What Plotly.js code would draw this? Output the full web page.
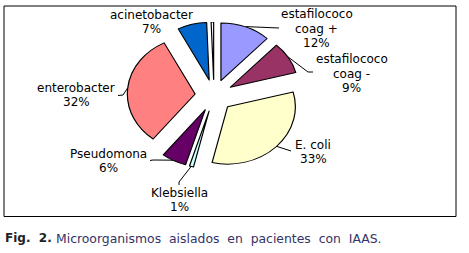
<!DOCTYPE html>
<html>
<head>
<meta charset="utf-8">
<script src="https://cdn.plot.ly/plotly-3.0.1.min.js"></script>
<style>
  html, body { margin: 0; padding: 0; background: #fff; }
  #wrap { position: relative; width: 469px; height: 253px; overflow: hidden; }
  #base { position: absolute; left: 0; top: 0; width: 469px; height: 253px; }
  #pie { position: absolute; left: 114px; top: 21.5px; width: 200px; height: 147px;
         transform: scaleX(1.18); transform-origin: 50% 50%; }
</style>
</head>
<body>
<div id="wrap"><div id="base"></div><div id="pie"></div></div>
<script>
// ---- data ----
const categories = ['estafilococo coag +', 'estafilococo coag -', 'E. coli', 'Klebsiella',
                    'Pseudomona', 'enterobacter', 'acinetobacter', ''];
const values = [12, 9, 33, 1, 6, 32, 7, 0.6];
const colors = ['#9999FF', '#993366', '#FFFFCC', '#CCFFFF', '#660066', '#FF8080', '#0066CC', '#FFFFFF'];
const captionLead = 'Fig.\u00A0 2.';
const caption = 'Microorganismos\u00A0 aislados\u00A0 en\u00A0 pacientes\u00A0 con\u00A0 IAAS.';

// ---- geometry / layout settings ----
const PULL = 0.28;
const CX = 214, CY = 95;          // pie centre in page pixels
const BOX_W = 200, BOX_H = 147;    // pie div size
const SX = 1.18;                   // horizontal stretch of the pie
const R = Math.min(BOX_W, BOX_H) / 2 / (1 + PULL);
const LINE = 14.1;                 // line spacing of the slice labels

// label placement: centre x, y of first text line, leader elbow/end points
const labelPos = [
  {x: 316.7, y: 14.4, lead: [[279, 28]]},
  {x: 351.7, y: 59.4, lead: [[308, 72], [313, 72]]},
  {x: 313, y: 144.8, lead: [[291, 151]]},
  {x: 179, y: 192.8, lead: [[179, 182], [179, 185]]},
  {x: 108.8, y: 154.2, lead: [[153, 160], [150, 160.5]]},
  {x: 76, y: 88.2, lead: [[123, 95], [118, 95.5]]},
  {x: 151, y: 15, lead: null},
  null
];

const total = values.reduce((a, b) => a + b, 0);
const pct = values.map(v => Math.round(v / total * 100) + '%');

function nameLines(name) {
  if (name.indexOf('estafilococo ') === 0) return ['estafilococo', name.slice(13)];
  return [name];
}

// ---- pie ----
Plotly.newPlot('pie', [{
  type: 'pie',
  labels: categories.map((c, i) => c || ('s' + i)),
  values: values,
  sort: false,
  direction: 'clockwise',
  rotation: 0,
  pull: values.map(() => PULL),
  textinfo: 'none',
  hoverinfo: 'none',
  marker: {colors: colors, line: {color: '#000000', width: 1}},
  domain: {x: [0, 1], y: [0, 1]}
}], {
  width: BOX_W, height: BOX_H,
  margin: {l: 0, r: 0, t: 0, b: 0, pad: 0},
  paper_bgcolor: 'rgba(0,0,0,0)', plot_bgcolor: 'rgba(0,0,0,0)',
  showlegend: false
}, {staticPlot: true, displayModeBar: false});

// ---- labels, leader lines, frame, caption ----
const annotations = [];
const shapes = [];
shapes.push({type: 'rect', xref: 'x', yref: 'y', x0: 4, x1: 456, y0: 6, y1: 216.5,
             line: {color: '#000', width: 1}});
let cum = 0;
values.forEach((v, i) => {
  const mid = (cum + v / 2) / total * 2 * Math.PI;
  cum += v;
  const lp = labelPos[i];
  if (!lp) return;
  const lines = nameLines(categories[i]).concat([pct[i]]);
  lines.forEach((t, k) => {
    annotations.push({xref: 'x', yref: 'y', x: lp.x, y: lp.y + k * LINE, text: t, showarrow: false,
                      xanchor: 'center', yanchor: 'middle', borderpad: 0,
                      font: {family: 'DejaVu Sans', size: 12, color: '#000'}});
  });
  if (lp.lead) {
    const rx = CX + (R + PULL * R) * Math.sin(mid) * SX;
    const ry = CY - (R + PULL * R) * Math.cos(mid);
    let path = 'M' + rx.toFixed(1) + ',' + ry.toFixed(1);
    lp.lead.forEach(p => { path += ' L' + p[0] + ',' + p[1]; });
    shapes.push({type: 'path', xref: 'x', yref: 'y', path: path, line: {color: '#000', width: 1}});
  }
});
annotations.push({xref: 'x', yref: 'y', x: 4, y: 238, xanchor: 'left', yanchor: 'middle', showarrow: false,
  borderpad: 0, text: '<b>' + captionLead + '</b>',
  font: {family: 'DejaVu Sans', size: 12, color: '#222222'}});
annotations.push({xref: 'x', yref: 'y', x: 55, y: 238, xanchor: 'left', yanchor: 'middle', showarrow: false,
  borderpad: 0, text: caption,
  font: {family: 'DejaVu Sans', size: 12.4, color: '#333366'}});

Plotly.newPlot('base', [], {
  width: 469, height: 253,
  margin: {l: 0, r: 0, t: 0, b: 0, pad: 0},
  paper_bgcolor: '#ffffff', plot_bgcolor: '#ffffff',
  xaxis: {range: [0, 469], visible: false, fixedrange: true},
  yaxis: {range: [253, 0], visible: false, fixedrange: true},
  showlegend: false,
  shapes: shapes,
  annotations: annotations
}, {staticPlot: true, displayModeBar: false});
</script>
</body>
</html>
